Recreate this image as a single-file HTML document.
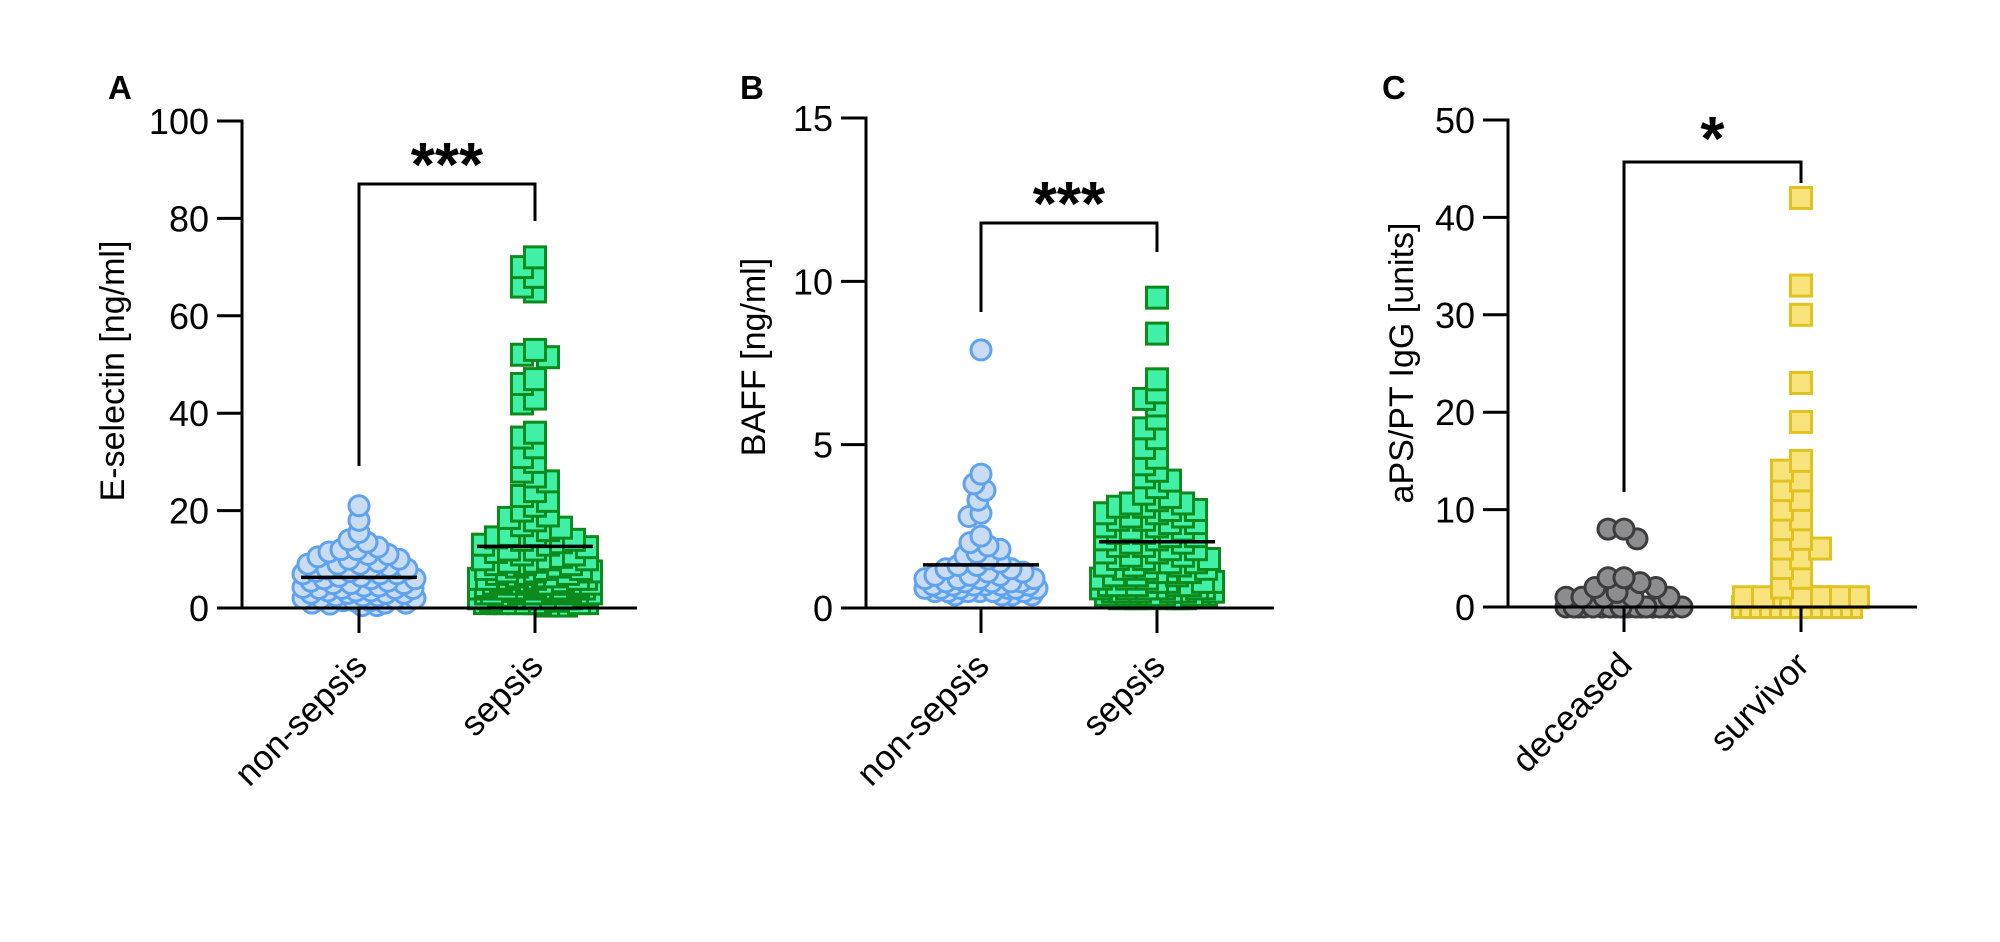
<!DOCTYPE html>
<html><head><meta charset="utf-8">
<style>
html,body{margin:0;padding:0;background:#fff;}
svg{display:block;}
text{font-family:"Liberation Sans",Arial,sans-serif;fill:#000;}
</style></head>
<body>
<svg id="fig" width="2000" height="942" viewBox="0 0 2000 942" xmlns="http://www.w3.org/2000/svg"></svg>
<script>
// ---- data ----
const categoriesA = ["non-sepsis","sepsis"];
const categoriesB = ["non-sepsis","sepsis"];
const categoriesC = ["deceased","survivor"];
const ticksA = [0,20,40,60,80,100];
const ticksB = [0,5,10,15];
const ticksC = [0,10,20,30,40,50];
const aNonSepsis = [21,18,15.5,14,13.5,12.5,12,11.5,11,10.5,10,9.5,9,9,8.5,8,8,7.5,7.5,7,7,6.5,6.5,6,6,5.5,5.5,5,5,5,4.5,4.5,4,4,4,4,3.5,3.5,3.5,3,3,3,3,2.5,2.5,2.5,2,2,2,2,1.5,1.5,1.5,1,1,1,0.8,0.5,0.5,4.2,9,8,7,10,11,6,12];
const aSepsis = [72,70,68,66,65,53,52,51.5,47,46,43,42,36,35,33,31,30,28,27,26,24,23,22,21,20,19,18.5,18,17,16.5,16,15,15,14.5,14,14,13.5,13,13,12.5,12,12,11.5,11,11,10.5,10,10,10,9.5,9.5,9,9,9,8.5,8.5,8,8,8,7.5,7.5,7.5,7,7,7,6.5,6.5,6.5,6,6,6,6,5.5,5.5,5.5,5,5,5,5,4.5,4.5,4.5,4,4,4,4,3.5,3.5,3.5,3,3,3,3,2.5,2.5,2.5,2,2,2,2,1.5,1.5,1,1,1,0.5,0.5,5,4,3,2,1,5,4,3,2,1,6,4,3,2,1,5,4,3,2,1,6,5,3,2,1,4,3,2,1,3];
const bNonSepsis = [7.9,4.1,3.8,3.6,3.3,2.9,2.8,2.2,2.0,1.9,1.8,1.7,1.6,1.5,1.4,1.3,1.3,1.2,1.2,1.1,1.1,1.0,1.0,1.0,0.9,0.9,0.9,0.9,0.8,0.8,0.8,0.8,0.8,0.7,0.7,0.7,0.7,0.7,0.6,0.6,0.6,0.6,0.5,0.5,0.5,0.5,0.4,0.4,0.4,0.5,0.6,0.4,0.5,0.7,0.6];
const bSepsis = [9.5,8.4,7.0,6.6,6.4,6.2,5.8,5.5,5.2,4.9,4.6,4.4,4.2,4.0,3.9,3.7,3.5,3.4,3.3,3.2,3.2,3.1,3.1,3.0,3.0,2.9,2.9,2.8,2.8,2.7,2.7,2.6,2.6,2.5,2.5,2.4,2.4,2.3,2.3,2.2,2.2,2.1,2.1,2.0,2.0,1.9,1.9,1.8,1.8,1.7,1.7,1.6,1.6,1.5,1.5,1.5,1.4,1.4,1.4,1.3,1.3,1.3,1.2,1.2,1.2,1.1,1.1,1.1,1.0,1.0,1.0,0.9,0.9,0.9,0.8,0.8,0.8,0.7,0.7,0.7,0.6,0.6,0.6,0.5,0.5,0.5,0.4,0.4,0.4,0.3,0.3,0.3,0.5,0.4,0.6,0.3,0.5,0.7,0.4,0.6,0.5,0.3,0.8,0.4,0.6,0.5,0.7,0.4,0.3,0.5,0.6,0.4];
const cDeceased = [8,8,7,3,3,2.5,2,2,1.5,1,1,1,1,1,0,0,0,0,0,0,0,0,0,0,0,0,0,0,0,0,0,0];
const cSurvivor = [42,33,30,23,19,15,14,13,12,11,10,9,8,7,6,6,5,4,3,2,1,1,1,1,1,1,1,1,1,1,0,0,0,0,0,0,0,0,0,0,0,0];

const NS = "http://www.w3.org/2000/svg";
const svg = document.getElementById("fig");
function mk(tag, attrs, parent){
  const e = document.createElementNS(NS, tag);
  for (const k in attrs) e.setAttribute(k, attrs[k]);
  (parent||svg).appendChild(e);
  return e;
}

function swarm(values, cx, yFn, size, factor, square, maxHalf){
  const sorted = values.slice().sort((a,b)=>b-a);
  const placed = [];
  const d = size*factor;
  sorted.forEach(v=>{
    const y = yFn(v);
    let bestX = cx, bestScore = -1;
    for (let k=0;k<=2*maxHalf;k++){
      const off = (k%2===0?1:-1)*Math.ceil(k/2);
      const x = cx+off;
      let minD = Infinity;
      for (const p of placed){
        const dx = Math.abs(p.x-x), dy = Math.abs(p.y-y);
        const dist = square ? Math.max(dx,dy) : Math.sqrt(dx*dx+dy*dy);
        if (dist<minD) minD = dist;
      }
      if (minD >= d){ bestX = x; bestScore = Infinity; break; }
      if (minD > bestScore){ bestScore = minD; bestX = x; }
    }
    placed.push({x:bestX,y:y,v:v});
  });
  return placed;
}

function panel(cfg){
  const g = mk("g",{});
  
  
  const yFn = v => cfg.y0 - v * (cfg.y0 - cfg.yTop) / cfg.ymax;
  const L = mk("text",{x:cfg.letterX,y:99,"font-size":33,"font-weight":"bold"},g);
  L.textContent = cfg.letter;
  
  
  const yt = mk("text",{x:0,y:0,"font-size":34,"text-anchor":"middle",transform:`translate(${cfg.titleX},${cfg.titleY}) rotate(-90)`},g);
  yt.textContent = cfg.ytitle;
  
  
  const ya = mk("line",{x1:cfg.ax,y1:cfg.yTop-1.5,x2:cfg.ax,y2:cfg.y0,stroke:"#000","stroke-width":3},g);
  
  
  cfg.ticks.forEach(t=>{
    const y = yFn(t);
    const tl = mk("line",{x1:cfg.ax-25,y1:y,x2:cfg.ax,y2:y,stroke:"#000","stroke-width":3},g);
    
    
    const tx = mk("text",{x:cfg.ax-33,y:y+13,"font-size":36,"text-anchor":"end"},g);
    tx.textContent = t;
    
    
  });
  const xa = mk("line",{x1:cfg.ax-25,y1:cfg.y0,x2:cfg.xEnd,y2:cfg.y0,stroke:"#000","stroke-width":3},g);
  
  
  cfg.groups.forEach((grp,i)=>{
    const cx = cfg.cats[i];
    const pts = swarm(grp.values, cx, yFn, grp.size, grp.factor, grp.square, grp.maxHalf);
    pts.slice().reverse().forEach(p=>{
      let m;
      if (grp.square){
        m = mk("rect",{x:p.x-grp.size/2,y:p.y-grp.size/2,width:grp.size,height:grp.size,fill:grp.fill,stroke:grp.stroke,"stroke-width":3},g);
      } else {
        m = mk("circle",{cx:p.x,cy:p.y,r:grp.size/2,fill:grp.fill,stroke:grp.stroke,"stroke-width":3},g);
      }
      
      
    });
    if (cfg.meanLines){
      const mean = grp.values.reduce((a,b)=>a+b,0)/grp.values.length;
      const ml = mk("line",{x1:cx-58,y1:yFn(mean),x2:cx+58,y2:yFn(mean),stroke:"#000","stroke-width":3.5},g);
      
      
    }
  });
  const xa2 = mk("line",{x1:cfg.ax,y1:cfg.y0,x2:cfg.xEnd,y2:cfg.y0,stroke:"#000","stroke-width":3},g);
  
  
  cfg.groups.forEach((grp,i)=>{
    const cx = cfg.cats[i];
    const xt = mk("line",{x1:cx,y1:cfg.y0,x2:cx,y2:cfg.y0+25,stroke:"#000","stroke-width":3},g);
    
    
    const lab = mk("text",{x:0,y:0,"font-size":35,"text-anchor":"end",transform:`translate(${cx+10},${cfg.y0+60}) rotate(-45)`},g);
    lab.textContent = cfg.categories[i];
    
    
  });
  const b = cfg.bracket;
  const br = mk("path",{d:`M${cfg.cats[0]},${b.left} V${b.top} H${cfg.cats[1]} V${b.right}`,fill:"none",stroke:"#000","stroke-width":3},g);
  
  
  const st = mk("text",{x:(cfg.cats[0]+cfg.cats[1])/2,y:b.top+b.dy,"font-size":62,"font-weight":"bold","text-anchor":"middle"},g);
  st.textContent = b.label;
  
  
}

const blue = {fill:"#c9dcf4",stroke:"#5ea2f0",size:20,factor:0.6,square:false,maxHalf:56};
const green = {fill:"#3ff0a6",stroke:"#0c8a1c",size:21,factor:0.6,square:true,maxHalf:56};

panel({name:"panel-a",letter:"A",letterX:108,ytitle:"E-selectin [ng/ml]",titleX:124,titleY:371,
  ax:242,y0:608,yTop:121,ymax:100,ticks:ticksA,xEnd:637,cats:[359,535],categories:categoriesA,meanLines:true,
  groups:[Object.assign({values:aNonSepsis},blue),Object.assign({values:aSepsis},green)],
  bracket:{top:184,left:466,right:221,label:"***",dy:2}});

panel({name:"panel-b",letter:"B",letterX:740,ytitle:"BAFF [ng/ml]",titleX:765,titleY:357,
  ax:866,y0:608,yTop:118,ymax:15,ticks:ticksB,xEnd:1274,cats:[981,1157],categories:categoriesB,meanLines:true,
  groups:[Object.assign({values:bNonSepsis},blue),Object.assign({values:bSepsis},green)],
  bracket:{top:223,left:312,right:252,label:"***",dy:2}});

panel({name:"panel-c",letter:"C",letterX:1382,ytitle:"aPS/PT IgG [units]",titleX:1413,titleY:363,
  ax:1508,y0:607,yTop:120,ymax:50,ticks:ticksC,xEnd:1917,cats:[1624,1801],categories:categoriesC,meanLines:false,
  groups:[{values:cDeceased,fill:"#8d8d90",stroke:"#3c3c3c",size:20,factor:0.8,square:false,maxHalf:58},
          {values:cSurvivor,fill:"#f9e37d",stroke:"#e2c21e",size:21,factor:0.9,square:true,maxHalf:58}],
  bracket:{top:162,left:492,right:183,label:"*",dy:-2}});
</script>
</body></html>
